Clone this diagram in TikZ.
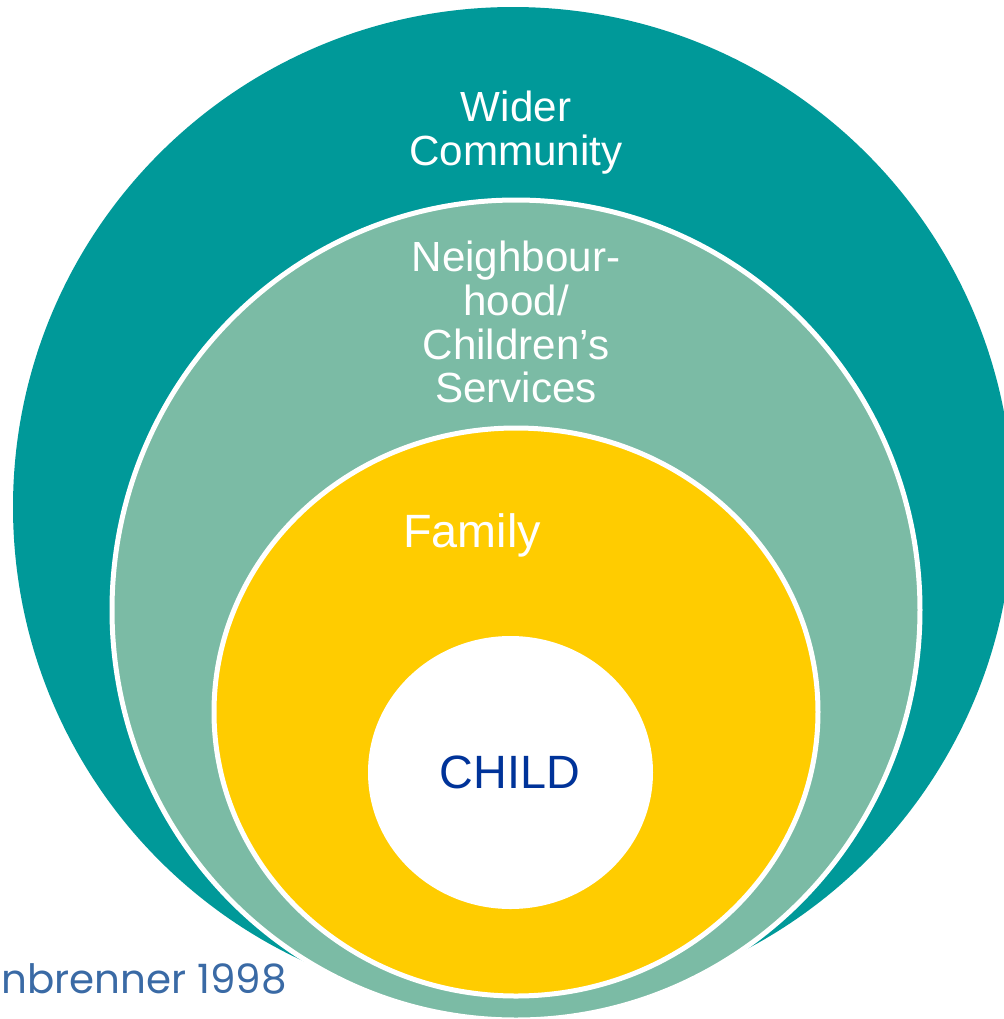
\documentclass[tikz,border=0pt]{standalone}
\usepackage{fontspec}
\setmainfont{Liberation Sans}
\newfontfamily\citefont{Poppins}
\definecolor{widerteal}{RGB}{0,153,153}
\definecolor{hoodgreen}{RGB}{123,187,165}
\definecolor{familyyellow}{RGB}{255,204,0}
\definecolor{childblue}{RGB}{0,51,153}
\definecolor{citeblue}{RGB}{58,106,165}
\tikzset{
every picture/.style={x=0.02cm, y=-0.02cm},
%%%%%%%%%%  Ring styles
outer ring/.style={fill=widerteal},
inner ring/.style={draw=white, line width=0.1cm},
%%%%%%%%%%  Text styles
ring label/.style={text=white, align=center, inner sep=0pt,
                   font=\fontsize{24}{25}\selectfont},
big label/.style={inner sep=0pt, font=\fontsize{26.6}{28}\selectfont},
cite label/.style={text=citeblue, inner sep=0pt, anchor=base west,
                   font=\citefont\fontsize{23}{24}\selectfont}
}
\begin{document}
\begin{tikzpicture}
\useasboundingbox (0,0) rectangle (1004,1019);
\clip (0,0) rectangle (1004,1019);
\fill[outer ring] (513,507) circle [radius=500];
\filldraw[inner ring, fill=hoodgreen] (516,610) ellipse [x radius=404, y radius=410];
\filldraw[inner ring, fill=familyyellow] (516,712) ellipse [x radius=302, y radius=284];
\fill[white] (510.5,772.5) ellipse [x radius=142.5, y radius=136.5];
\node[ring label] (wider) at (516,133) {Wider\\Community};
\node[ring label] (hood) at (516,322) {Neighbour-\\hood/\\Children’s\\Services};
\node[big label, text=white] (family) at (472,535) {Family};
\node[big label, text=childblue] (child) at (510,772) {CHILD};
\node[cite label] (cite) at (1,993) {nbrenner 1998};
\end{tikzpicture}
\end{document}
